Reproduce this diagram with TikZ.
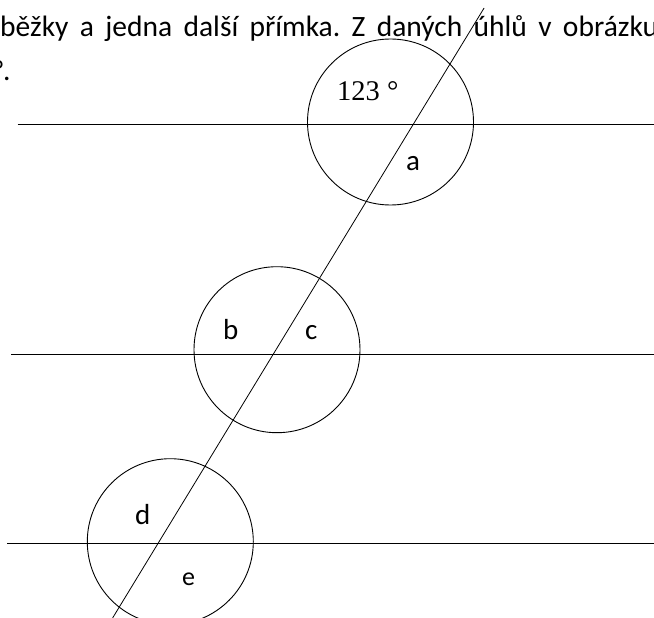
\documentclass[tikz,border=0pt]{standalone}
\usepackage{fontspec}
\setmainfont{Carlito}
\newfontfamily\serifnum{Liberation Serif}
\usetikzlibrary{positioning}
\frenchspacing
\tikzset{
  % --- lines
  par/.style  = {line width=0.9pt, draw=black},
  cut/.style  = {line width=0.8pt, draw=black},
  ring/.style = {line width=0.9pt, draw=black},
  % --- texts
  txt/.style  = {anchor=base west, inner sep=0pt, font=\fontsize{29.5}{34}\selectfont},
  ang/.style  = {anchor=base west, inner sep=0pt, font=\fontsize{29}{29}\selectfont},
  given/.style= {anchor=base west, inner sep=0pt, font=\fontsize{28.5}{28.5}\selectfont\serifnum},
}

\begin{document}
\begin{tikzpicture}[x=1pt,y=-1pt]
  \useasboundingbox (0,0) rectangle (654,618);

  % crossings of the transversal with the three parallels
  \coordinate (x1) at (413.3,124.3);
  \coordinate (x2) at (273.3,354.7);
  \coordinate (x3) at (158.3,543);
  \coordinate (top) at (484.1,8);
  \coordinate (bot) at (112.6,618);
  % circle centres
  \coordinate (o1) at (390.5,122);
  \coordinate (o2) at (277,349.7);
  \coordinate (o3) at (170.3,541.7);
  % ends of the parallels
  \coordinate (l1) at (17.5,124.3);  \coordinate (r1) at (654,124.3);
  \coordinate (l2) at (11,354.7);    \coordinate (r2) at (654,354.7);
  \coordinate (l3) at (7,543);       \coordinate (r3) at (654,543);

  \node[txt] (line1) at (0,36.7) {\makebox[658pt][s]{běžky a jedna další přímka. Z daných úhlů v obrázku}};
  \node[txt] (line2) at (-7,80.5) {°.};

  \draw[par] (l1) -- (r1);
  \draw[par] (l2) -- (r2);
  \draw[par] (l3) -- (r3);
  \draw[cut] (top) -- (bot);

  \draw[ring] (o1) circle[radius=83];
  \draw[ring] (o2) circle[radius=83];
  \draw[ring] (o3) circle[radius=83];

  \node[given] (g) at (337,100.7) {123 °};
  \node[ang] (a) at (406,170.7) {a};
  \node[ang] (b) at (223,339) {b};
  \node[ang] (c) at (305,339) {c};
  \node[ang] (d) at (135,524) {d};
  \node[ang, font=\fontsize{26}{26}\selectfont] (e) at (182,585.3) {e};
\end{tikzpicture}
\end{document}
